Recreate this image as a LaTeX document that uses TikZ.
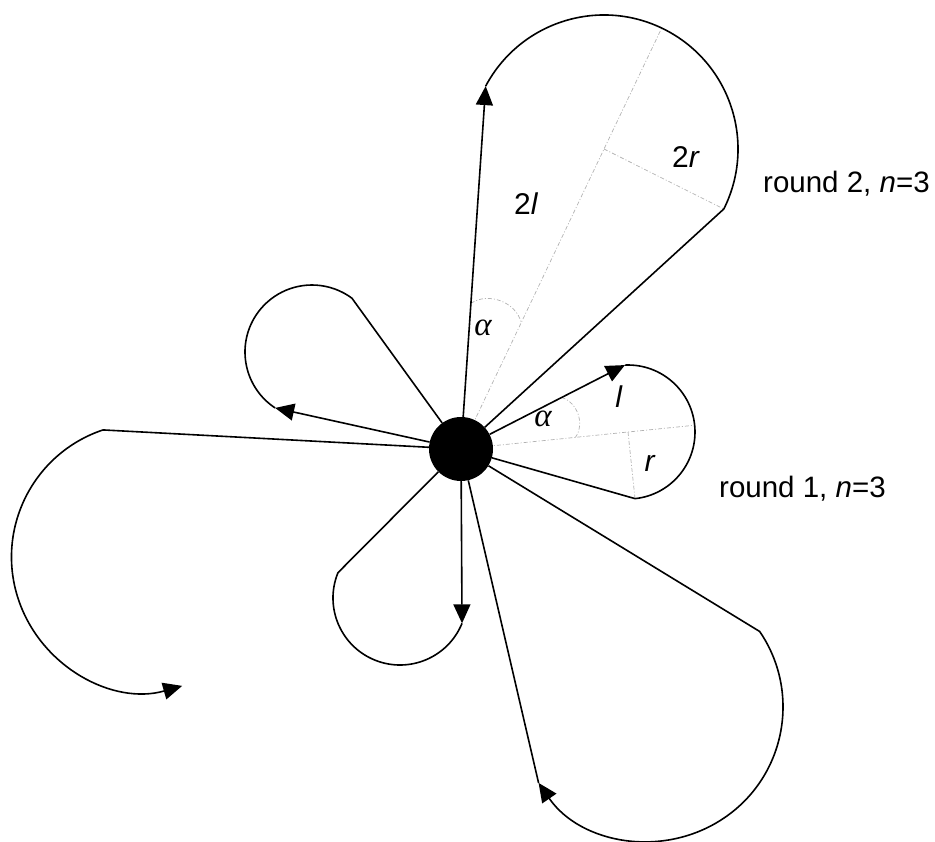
\documentclass[tikz,border=0pt]{standalone}
\usepackage{fontspec}
\setmainfont{Liberation Sans}
\newfontfamily\greekserif{Liberation Serif}
\usetikzlibrary{arrows.meta,calc}
\begin{document}
\begin{tikzpicture}[x=1pt,y=-1pt,
  lobe/.style={line width=1.6pt,line join=miter},
  arr/.style={lobe,-{Triangle[length=19pt,width=17pt]}},
  guide/.style={gray!60,line width=0.7pt,dash pattern=on 4pt off 2pt on 1pt off 2pt},
  lbl/.style={inner sep=0pt,font=\fontsize{29.5pt}{32pt}\selectfont},
  sym/.style={inner sep=0pt,font=\fontsize{30pt}{33pt}\selectfont},
  gsym/.style={inner sep=0pt,font=\greekserif\itshape\fontsize{33pt}{36pt}\selectfont}]
\useasboundingbox (0,0) rectangle (935,842);
\coordinate (C) at (461,449);
% circle centres
\coordinate (c1) at (628,432);
\coordinate (c2) at (312,352);
\coordinate (c3) at (400,598);
\coordinate (c4) at (604,149);
\coordinate (c5) at (649,707);
\coordinate (c6) at (145.5,557);
% arc end points
\coordinate (a1) at ($(c1)+(-92.6:67)$);
\coordinate (b1) at ($(c1)+(84:67)$);
\coordinate (e1) at ($(c1)+(-5.8:67)$);
\coordinate (t2) at ($(c2)+(123.4:67)$);
\coordinate (u2) at ($(c2)+(306.6:67)$);
\coordinate (t3) at ($(c3)+(22.2:67)$);
\coordinate (u3) at ($(c3)+(202.2:67)$);
\coordinate (t4) at ($(c4)+(208:134)$);
\coordinate (u4) at ($(c4)+(26.6:134)$);
\coordinate (e4) at ($(c4)+(-64.5:134)$);
\coordinate (u5) at ($(c5)+(-34.3:134)$);
\coordinate (t5) at ($(c5)+(145.5:134)$);
\coordinate (u6) at ($(c6)+(251.5:134)$);
% guide lines
\draw[guide] (C) -- (e1);
\draw[guide] (c1) -- (b1);
\draw[guide] (C) -- (e4);
\draw[guide] (c4) -- (u4);
\coordinate (p1) at ($(C)!113pt!(a1)$);
\coordinate (q1) at ($(C)!115pt!(e1)$);
\draw[guide] (p1) to[bend left=55] (q1);
\coordinate (p4) at ($(C)!146pt!(t4)$);
\coordinate (q4) at ($(C)!140pt!(e4)$);
\draw[guide] (p4) to[bend left=55] (q4);
% central dot
\node[circle,fill=black,inner sep=0pt,minimum size=64pt] (dot) at (C) {};
% round 1 lobes
\draw[arr] (dot) -- (a1);
\draw[lobe] (a1) arc[start angle=-92.6,end angle=84,radius=67] -- (dot);
\draw[arr] (dot) -- (t2);
\draw[lobe] (t2) arc[start angle=123.4,end angle=306.6,radius=67] -- (dot);
\draw[arr] (dot) -- (t3);
\draw[lobe] (t3) arc[start angle=22.2,end angle=202.2,radius=67] -- (dot);
% round 2 lobes
\draw[arr] (dot) -- (t4);
\draw[lobe] (t4) arc[start angle=208,end angle=386.6,radius=134] -- (dot);
\draw[arr] (dot) -- (u5) arc[start angle=-34.3,end angle=145.5,radius=134];
\draw[lobe] (t5) -- (dot);
\draw[arr] (dot) -- (u6) arc[start angle=251.5,end angle=74.1,radius=134];
% labels
\node[sym,anchor=base west] (l2) at (514,215) {2\textit{l}};
\node[sym,anchor=base west] (r2) at (672,168) {2\textit{r}};
\node[gsym] (al2) at (483,328) {α};
\node[gsym] (al1) at (543,419) {α};
\node[sym] (l1) at (619,397) {\textit{l}};
\node[sym] (r1) at (650,463) {\textit{r}};
\node[lbl,anchor=base west] (rd2) at (763,193) {round 2, \textit{n}=3};
\node[lbl,anchor=base west] (rd1) at (719,497) {round 1, \textit{n}=3};
\end{tikzpicture}
\end{document}
